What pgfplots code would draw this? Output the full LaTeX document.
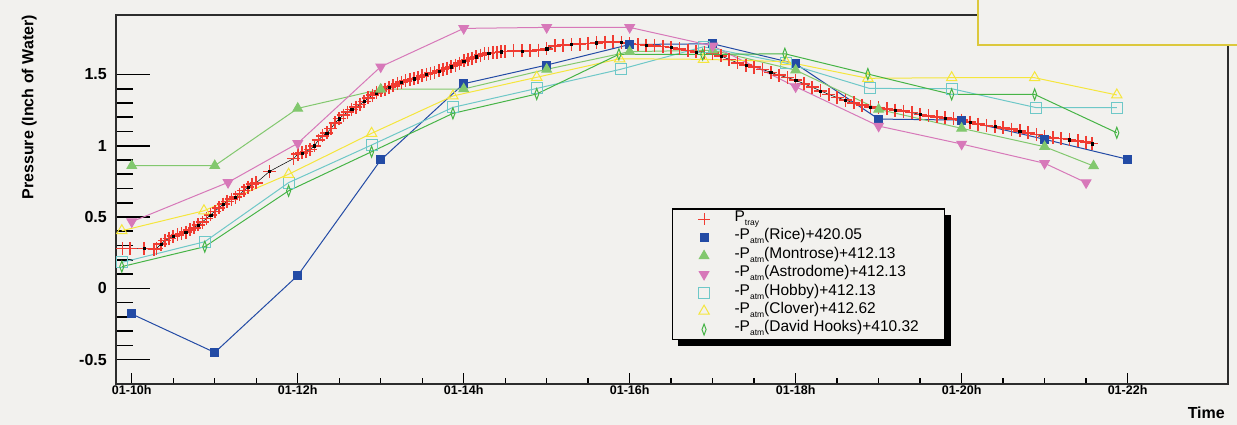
\documentclass[border=0pt]{standalone}
\usepackage{fontspec}
\setmainfont{Liberation Sans}
\usepackage{pgfplots}
\usepackage{pgfplotstable}
\pgfplotsset{compat=1.18}
\usetikzlibrary{shadows}

\definecolor{bgc}{RGB}{242,241,238}
\definecolor{framec}{RGB}{45,45,45}
\definecolor{ricec}{RGB}{35,75,165}
\definecolor{montc}{RGB}{130,200,110}
\definecolor{astroc}{RGB}{215,120,185}
\definecolor{hobbyc}{RGB}{110,200,200}
\definecolor{cloverc}{RGB}{245,230,60}
\definecolor{davidc}{RGB}{70,180,70}
\definecolor{trayc}{RGB}{240,60,50}
\definecolor{statc}{RGB}{220,200,60}

\newcommand{\sub}[1]{\raisebox{-4pt}{\fontsize{8.5}{8.5}\selectfont #1}}

% P_tray, hours of 01-xx
\pgfplotstableread{
x y
9.80 0.28
9.89 0.28
9.98 0.28
10.15 0.28
10.27 0.272
10.30 0.28
10.35 0.31
10.40 0.335
10.45 0.35
10.50 0.365
10.55 0.375
10.60 0.385
10.65 0.395
10.70 0.41
10.75 0.425
10.80 0.445
10.85 0.465
10.90 0.49
10.95 0.515
11.00 0.54
11.05 0.565
11.10 0.59
11.15 0.61
11.20 0.625
11.25 0.64
11.30 0.66
11.35 0.685
11.40 0.71
11.45 0.73
11.50 0.74
11.66 0.82
11.95 0.91
12.00 0.94
12.05 0.95
12.10 0.96
12.15 0.975
12.20 1.00
12.25 1.04
12.30 1.07
12.35 1.09
12.40 1.12
12.45 1.16
12.50 1.19
12.55 1.215
12.60 1.235
12.65 1.255
12.70 1.27
12.75 1.29
12.80 1.31
12.85 1.335
12.90 1.355
12.95 1.37
13.00 1.385
13.05 1.395
13.10 1.41
13.15 1.42
13.20 1.435
13.25 1.445
13.30 1.455
13.35 1.465
13.40 1.47
13.45 1.48
13.50 1.49
13.55 1.50
13.60 1.51
13.65 1.515
13.70 1.525
13.75 1.535
13.80 1.545
13.85 1.555
13.90 1.565
13.95 1.58
14.00 1.595
14.05 1.605
14.10 1.615
14.15 1.625
14.20 1.635
14.25 1.645
14.30 1.65
14.35 1.655
14.40 1.655
14.45 1.66
14.5 1.66
14.6 1.665
14.7 1.665
14.8 1.666
14.9 1.67
15.0 1.68
15.1 1.70
15.2 1.706
15.3 1.71
15.4 1.713
15.5 1.718
15.6 1.722
15.7 1.726
15.8 1.729
15.9 1.725
16.0 1.716
16.1 1.71
16.2 1.705
16.3 1.70
16.4 1.697
16.5 1.69
16.6 1.68
16.7 1.668
16.8 1.658
16.9 1.654
17.0 1.65
17.1 1.63
17.2 1.605
17.3 1.582
17.4 1.565
17.5 1.552
17.6 1.535
17.7 1.515
17.8 1.495
17.9 1.478
18.0 1.46
18.1 1.435
18.2 1.41
18.3 1.385
18.4 1.36
18.5 1.338
18.6 1.32
18.7 1.30
18.8 1.285
18.9 1.272
19.0 1.265
19.1 1.258
19.2 1.25
19.3 1.242
19.4 1.232
19.5 1.22
19.6 1.21
19.7 1.202
19.8 1.195
19.9 1.188
20.0 1.18
20.1 1.165
20.2 1.152
20.3 1.142
20.4 1.135
20.5 1.126
20.6 1.116
20.7 1.104
20.8 1.09
20.9 1.078
21.0 1.065
21.1 1.056
21.2 1.05
21.3 1.043
21.4 1.035
21.5 1.025
21.57 1.015
}\ptray

\begin{document}
\begin{tikzpicture}[x=1pt,y=1pt]
\fill[bgc] (0,0) rectangle (1237,425);
\useasboundingbox (0,0) rectangle (1237,425);
\begin{axis}[
    at={(116pt,41pt)}, anchor=south west,
    scale only axis, width=1112pt, height=369pt,
    xmin=9.81, xmax=23.21,
    ymin=-0.671, ymax=1.917,
    axis background/.style={fill=bgc},
    axis line style={draw=framec, line width=1.6pt},
    xtick={10,12,...,22},
    xticklabels={01-10h,01-12h,01-14h,01-16h,01-18h,01-20h,01-22h},
    ytick={-0.5,0,0.5,1,1.5},
    yticklabels={-0.5,0,0.5,1,1.5},
    minor x tick num=3, minor y tick num=4,
    xtick pos=left, ytick pos=left, tick align=inside,
    x tick style={black, line width=1.4pt, /pgfplots/major tick length=11pt, /pgfplots/minor tick length=6pt},
    y tick style={black, line width=1.6pt, /pgfplots/major tick length=34pt, /pgfplots/minor tick length=17pt},
    xticklabel style={font=\bfseries\fontsize{12.5}{12.5}\selectfont, inner sep=0pt, yshift=-1.5pt},
    yticklabel style={font=\bfseries\fontsize{16}{16}\selectfont, inner sep=0pt, xshift=-9pt},
    xlabel={Time},
    xlabel style={at={(rel axis cs:1,0)}, anchor=base east, inner sep=0pt, yshift=-35pt, xshift=-3pt, font=\bfseries\fontsize{16}{16}\selectfont},
    legend cell align=left,
    legend style={at={(0.4997,0.476)}, anchor=north west, draw=black, line width=1.2pt,
        fill=bgc, inner xsep=25.8pt, inner ysep=1pt, column sep=24.5pt, row sep=0pt,
        font=\fontsize{15.5}{15.5}\selectfont,
        nodes={inner sep=0pt, text height=11.5pt, text depth=6.9pt},
        drop shadow={shadow xshift=6pt, shadow yshift=-6pt, fill=black, opacity=1}},
]
% data
\addplot[black, line width=0.5pt, mark=+, mark size=6.5pt, mark options={trayc, line width=1.6pt}, forget plot] table {\ptray};
\addplot[only marks, black, mark=square*, mark size=1.1pt, each nth point=3, forget plot] table {\ptray};

\addplot[ricec, line width=1pt, mark=square*, mark size=4pt, forget plot] coordinates {
(10,-0.18)(11,-0.45)(12,0.09)(13,0.90)(14,1.435)(15,1.566)(16,1.71)(17,1.715)(18,1.575)(19,1.187)(20,1.18)(21,1.045)(22,0.905)};
\addplot[montc, line width=1pt, mark=triangle*, mark size=5.5pt, forget plot] coordinates {
(10,0.86)(11,0.86)(12,1.262)(13,1.396)(14,1.398)(15,1.536)(16,1.66)(17,1.67)(18,1.53)(19,1.255)(20,1.122)(21,0.993)(21.59,0.858)};
\addplot[astroc, line width=1pt, mark=triangle*, mark size=5.5pt, mark options={rotate=180}, forget plot] coordinates {
(10,0.467)(11.16,0.743)(12,1.017)(13,1.554)(14,1.823)(15,1.83)(16,1.83)(17,1.70)(18,1.414)(19,1.138)(20,1.012)(21,0.877)(21.5,0.741)};
\addplot[hobbyc, line width=1pt, mark=square, mark size=5.5pt, forget plot] coordinates {
(9.88,0.182)(10.88,0.327)(11.89,0.741)(12.89,1.005)(13.87,1.269)(14.88,1.402)(15.89,1.536)(16.89,1.694)(17.88,1.58)(18.89,1.402)(19.88,1.40)(20.9,1.267)(21.87,1.267)};
\addplot[cloverc, line width=1pt, mark=triangle, mark size=6pt, forget plot] coordinates {
(9.88,0.404)(10.87,0.544)(11.89,0.80)(12.89,1.087)(13.87,1.349)(14.88,1.48)(15.88,1.61)(16.89,1.606)(17.88,1.59)(18.87,1.473)(19.88,1.477)(20.88,1.477)(21.87,1.356)};
\addplot[davidc, line width=1pt, mark=diamond, mark size=5.5pt, mark options={xscale=0.5}, forget plot] coordinates {
(9.88,0.152)(10.88,0.292)(11.89,0.684)(12.89,0.958)(13.87,1.227)(14.88,1.363)(15.87,1.641)(16.88,1.64)(17.87,1.645)(18.87,1.503)(19.88,1.36)(20.88,1.36)(21.87,1.091)};

% legend
\addlegendimage{only marks, trayc, mark=+, mark size=6pt, line width=1pt}
\addlegendentry{P\sub{tray}}
\addlegendimage{only marks, ricec, mark=square*, mark size=4pt, line width=1pt}
\addlegendentry{-P\sub{atm}(Rice)+420.05}
\addlegendimage{only marks, montc, mark=triangle*, mark size=5.5pt, line width=1pt}
\addlegendentry{-P\sub{atm}(Montrose)+412.13}
\addlegendimage{only marks, astroc, mark=triangle*, mark size=5.5pt, mark options={rotate=180}, line width=1pt}
\addlegendentry{-P\sub{atm}(Astrodome)+412.13}
\addlegendimage{only marks, hobbyc, mark=square, mark size=5.5pt, line width=1pt}
\addlegendentry{-P\sub{atm}(Hobby)+412.13}
\addlegendimage{only marks, cloverc, mark=triangle, mark size=6pt, line width=1pt}
\addlegendentry{-P\sub{atm}(Clover)+412.62}
\addlegendimage{only marks, davidc, mark=diamond, mark size=5.5pt, mark options={xscale=0.5}, line width=1pt}
\addlegendentry{-P\sub{atm}(David Hooks)+410.32}
\end{axis}
\node[rotate=90, anchor=south east, inner sep=0pt, font=\bfseries\fontsize{16}{16}\selectfont] at (37,410) {Pressure (Inch of Water)};
\filldraw[fill=bgc, draw=statc, line width=1.6pt] (978,380) rectangle (1240,430);
\end{tikzpicture}
\end{document}
